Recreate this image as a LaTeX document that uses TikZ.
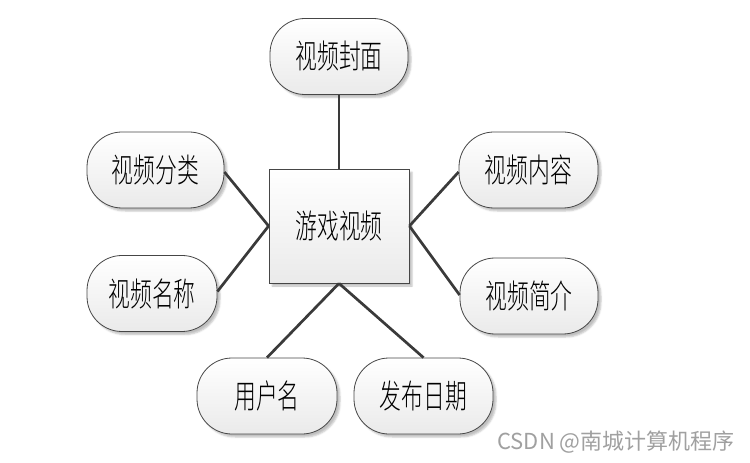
\documentclass[tikz,border=0pt]{standalone}
\usepackage{fontspec}
\usetikzlibrary{positioning, shadows.blur}
\newfontfamily\cjk[FakeStretch=0.66, UprightFont=* Light]{Noto Sans CJK SC}
\newfontfamily\cjkmark{Noto Sans CJK SC}
\definecolor{edge-gray}{RGB}{58,58,58}
\definecolor{box-line}{RGB}{70,70,70}
\definecolor{box-low}{RGB}{234,234,234}
\definecolor{mark-gray}{RGB}{160,160,160}

\begin{document}
\begin{tikzpicture}[
  x=1bp, y=-1bp,
  every node/.style = {font=\cjk\fontsize{33bp}{36bp}\selectfont},
  % Box styles
  attrbox/.style  = {draw=box-line, line width=0.8bp, rounded corners=35bp,
                     top color=white, bottom color=box-low,
                     minimum width=138bp, minimum height=76bp, inner sep=0pt,
                     blur shadow={shadow xshift=3bp, shadow yshift=-3bp,
                                  shadow blur steps=4, shadow opacity=25}},
  entitybox/.style= {draw=box-line, line width=0.8bp,
                     top color=white, bottom color=box-low,
                     minimum width=140bp, minimum height=114bp, inner sep=0pt,
                     blur shadow={shadow xshift=3bp, shadow yshift=-3bp,
                                  shadow blur steps=4, shadow opacity=25}},
  % Line styles
  link/.style     = {edge-gray, line width=2.7bp},
]
\useasboundingbox (0,0) rectangle (750,463);

% ── Nodes ──────────────────────────────────────────────────────────────────────

% entity (centre)
\node[entitybox] (game) at (339, 226) {游戏视频};

% attributes
\node[attrbox] (cover)    at (339, 56.5)  {视频封面};
\node[attrbox, minimum width=137bp] (category) at (155.5, 170) {视频分类};
\node[attrbox, minimum width=130bp] (title)    at (152, 293.5) {视频名称};
\node[attrbox, minimum width=139bp] (content)  at (528.5, 170) {视频内容};
\node[attrbox] (intro)    at (529, 296)   {视频简介};
\node[attrbox, minimum width=140bp] (user)     at (267, 396)   {用户名};
\node[attrbox, minimum width=139bp] (date)     at (423.5, 396) {发布日期};

% ── Links ──────────────────────────────────────────────────────────────────────

\draw[link] (game.north) -- (cover.south);
\draw[link] (game.west) -- ([yshift=-2bp]category.east);
\draw[link] (game.west) -- ([yshift=2bp]title.east);
\draw[link] (game.east) -- ([yshift=-2bp]content.west);
\draw[link] (game.east) -- ([yshift=1bp]intro.west);
\draw[link] (game.south) -- (user.north);
\draw[link] (game.south) -- (date.north);

% watermark
\node[font=\cjkmark\fontsize{22bp}{25bp}\selectfont, text=mark-gray,
      inner sep=0pt] (mark) at (616, 442) {CSDN @南城计算机程序};

\end{tikzpicture}
\end{document}
